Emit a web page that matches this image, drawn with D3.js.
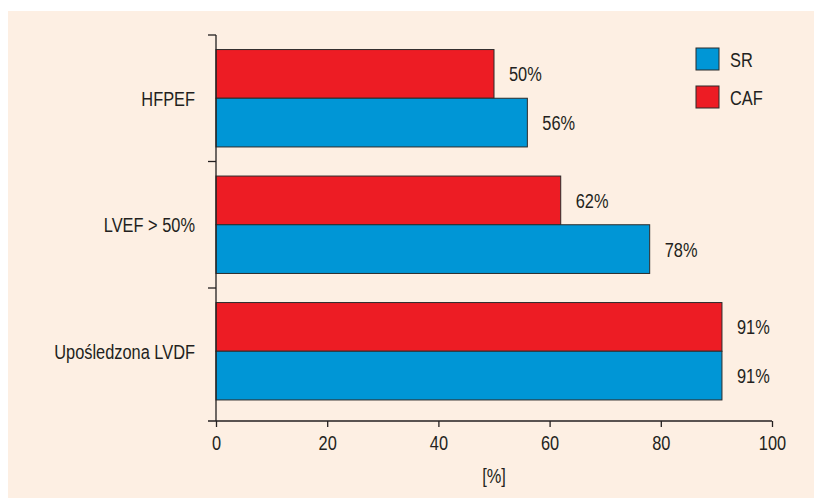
<!DOCTYPE html>
<html><head><meta charset="utf-8">
<script src="https://cdn.jsdelivr.net/npm/d3@7"></script>
<style>
html,body{margin:0;padding:0;background:#ffffff;}
svg text{font-family:"Liberation Sans",Arial,sans-serif;fill:#231f20;}
</style></head>
<body><svg id="c" width="814" height="498"></svg>
<script>
const categories = ["HFPEF", "LVEF > 50%", "Upośledzona LVDF"];
const seriesNames = ["CAF", "SR"];
const legendOrder = ["SR", "CAF"];
const srValues = [56, 78, 91];
const cafValues = [50, 62, 91];
const xTicks = [0, 20, 40, 60, 80, 100];
const xLabel = "[%]";
const colors = {SR: "#0096d6", CAF: "#ed1c24"};

const svg = d3.select("#c");
svg.append("rect").attr("x", 8).attr("y", 11).attr("width", 806).attr("height", 487).attr("fill", "#fdefe3");

const x = d3.scaleLinear().domain([0, 100]).range([216, 772]);
const y0 = d3.scaleBand().domain(categories).range([35, 414.5]).paddingInner(0.23).paddingOuter(0.115);
const y1 = d3.scaleBand().domain(seriesNames).range([0, y0.bandwidth()]);
const axisY = 421;
const fs = 21;
const sx = 0.78;

function label(parent, tx, ty, str, anchor) {
  return parent.append("text")
    .attr("transform", `translate(${tx},${ty}) scale(${sx},1)`)
    .attr("dy", "0.36em")
    .attr("text-anchor", anchor || "start")
    .attr("font-size", fs)
    .text(str);
}

const data = categories.map((c, i) => ({cat: c, SR: srValues[i], CAF: cafValues[i]}));

// bars
const g = svg.append("g");
data.forEach(d => {
  seriesNames.forEach(s => {
    g.append("rect")
      .attr("x", x(0))
      .attr("y", y0(d.cat) + y1(s))
      .attr("width", x(d[s]) - x(0))
      .attr("height", y1.bandwidth())
      .attr("fill", colors[s])
      .attr("stroke", "#2b2b2b")
      .attr("stroke-width", 1);
    label(g, x(d[s]) + 15, y0(d.cat) + y1(s) + y1.bandwidth() / 2, d[s] + "%");
  });
});

// y axis
const step = y0.step();
const yTop = y0.range()[0];
svg.append("line").attr("x1", x(0)).attr("x2", x(0)).attr("y1", yTop).attr("y2", axisY)
  .attr("stroke", "#231f20").attr("stroke-width", 1.3);
[0, 1, 2].forEach(i => {
  const yy = yTop + i * step;
  svg.append("line").attr("x1", x(0) - 8).attr("x2", x(0)).attr("y1", yy).attr("y2", yy)
    .attr("stroke", "#231f20").attr("stroke-width", 1.3);
});
categories.forEach(c => {
  label(svg, x(0) - 21, y0(c) + y0.bandwidth() / 2, c, "end");
});

// x axis
const xa = svg.append("g").attr("transform", `translate(0,${axisY})`)
  .call(d3.axisBottom(x).tickValues(xTicks).tickSize(6).tickPadding(8).tickSizeOuter(0));
xa.select(".domain").remove();
xa.append("line").attr("x1", x(0) - 8).attr("x2", x(100)).attr("y1", 0).attr("y2", 0)
  .attr("stroke", "#231f20").attr("stroke-width", 1.3);
xa.selectAll(".tick line").attr("stroke", "#231f20").attr("stroke-width", 1.3);
xa.selectAll(".tick text").attr("font-size", fs).attr("fill", "#231f20")
  .attr("transform", `scale(${sx},1)`)
  .style("font-family", '"Liberation Sans",Arial,sans-serif');
label(svg, (x(0) + x(100)) / 2, 475, xLabel, "middle");

// legend
const lg = svg.append("g");
legendOrder.forEach((s, i) => {
  const ly = 48 + i * 38;
  lg.append("rect").attr("x", 696).attr("y", ly).attr("width", 23).attr("height", 22)
    .attr("fill", colors[s]).attr("stroke", "#2b2b2b").attr("stroke-width", 1);
  label(lg, 730, ly + 11, s);
});
</script></body></html>
